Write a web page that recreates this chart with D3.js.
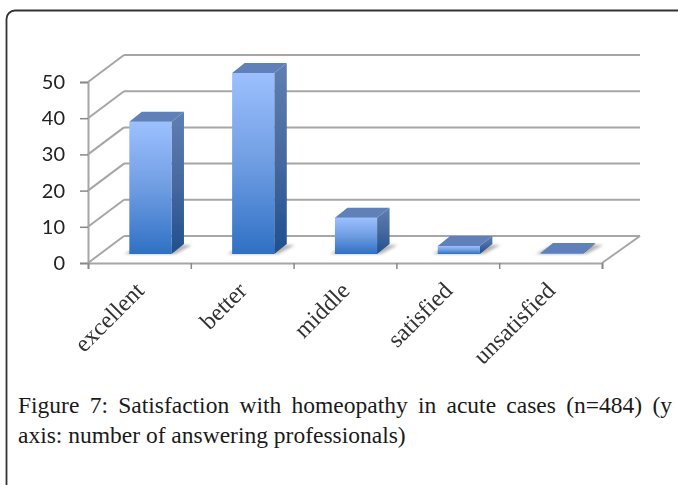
<!DOCTYPE html>
<html>
<head>
<meta charset="utf-8">
<script src="https://cdn.jsdelivr.net/npm/d3@7"></script>
<style>
	html, body { margin: 0; padding: 0; background: #fff; }
	#wrap { position: relative; width: 678px; height: 485px; overflow: hidden; }
	svg { position: absolute; left: 0; top: 0; }
	#caption {
		position: absolute; left: 18px; top: 391px; width: 654px;
		font: 23.5px/29.5px "Liberation Serif", serif; color: #1a1a1a;
		text-align: justify;
	}
</style>
</head>
<body>
<div id="wrap">
	<svg id="chart" width="678" height="485"></svg>
	<div id="caption"></div>
</div>
<script>
'use strict';

const categories = ['excellent', 'better', 'middle', 'satisfied', 'unsatisfied'];
const values = [36.5, 50, 10, 2.2, 0.3];
const yTicks = [0, 10, 20, 30, 40, 50];
const captionText = 'Figure 7: Satisfaction with homeopathy in acute cases (n=484) (y axis: number of answering professionals)';

(function () {

	const svg = d3.select('#chart');
	const defs = svg.append('defs');

	const left = 88, right = 602, bottom = 263, top = 82;

	// depth of the fake 3d box, as a screen offset
	const wall = { dx: 36, dy: -27 };
	const barFront = { dx: 11, dy: -9 };
	const barBack = { dx: 23.5, dy: -19 };

	const x = d3.scaleBand()
		.domain(categories)
		.range([left, right])
		.paddingInner(0.59)
		.paddingOuter(0.295);
	const xEdges = d3.scaleLinear().domain([0, categories.length]).range([left, right]);
	const y = d3.scaleLinear().domain([0, 50]).range([bottom, top]);

	const gradient = (id, c0, c1, c2) => {
		const g = defs.append('linearGradient')
			.attr('id', id)
			.attr('x1', 0).attr('y1', 0).attr('x2', 0).attr('y2', 1);
		g.append('stop').attr('offset', '0%').attr('stop-color', c0);
		g.append('stop').attr('offset', '50%').attr('stop-color', c1);
		g.append('stop').attr('offset', '100%').attr('stop-color', c2);
	};
	gradient('front', '#9cc0ff', '#6f9de2', '#2f70c4');
	gradient('side', '#5f7fb2', '#47699f', '#1f4f8e');

	const soft = defs.append('filter').attr('id', 'soft');
	soft.append('feGaussianBlur').attr('stdDeviation', 0.55);
	const shadowBlur = defs.append('filter').attr('id', 'shadowBlur')
		.attr('x', '-30%').attr('y', '-50%').attr('width', '160%').attr('height', '200%');
	shadowBlur.append('feGaussianBlur').attr('stdDeviation', 1.6);

	// card outline: left and top only
	svg.append('path')
		.attr('d', 'M6.5,485V19a8.5,8.5 0 0 1 8.5,-8.5H678')
		.attr('fill', 'none')
		.attr('stroke', '#333')
		.attr('stroke-width', 1.8);

	const g = svg.append('g').attr('filter', 'url(#soft)');

	// walls
	const gridColor = '#a6a6a6';
	g.selectAll('line.back')
		.data(yTicks)
		.join('line')
		.attr('class', 'back')
		.attr('x1', left + wall.dx).attr('x2', 640)
		.attr('y1', d => y(d) + wall.dy).attr('y2', d => y(d) + wall.dy)
		.attr('stroke', gridColor).attr('stroke-width', 2);

	g.selectAll('line.side')
		.data(yTicks)
		.join('line')
		.attr('class', 'side')
		.attr('x1', left).attr('x2', left + wall.dx)
		.attr('y1', d => y(d)).attr('y2', d => y(d) + wall.dy)
		.attr('stroke', gridColor).attr('stroke-width', 2);

	g.append('line')
		.attr('x1', right).attr('x2', right + 38)
		.attr('y1', bottom).attr('y2', bottom + wall.dy)
		.attr('stroke', gridColor).attr('stroke-width', 2);

	// axes
	const yAxis = g.append('g')
		.attr('transform', `translate(${left},0)`)
		.call(d3.axisLeft(y).tickValues(yTicks).tickSize(8).tickPadding(15));
	yAxis.selectAll('text')
		.attr('font-family', 'Lato, sans-serif')
		.attr('font-size', 20)
		.attr('fill', '#222');

	const xAxis = g.append('g')
		.attr('transform', `translate(0,${bottom})`)
		.call(d3.axisBottom(xEdges).ticks(categories.length).tickSize(6).tickFormat(''));

	[yAxis, xAxis].forEach(a => {
		a.selectAll('line').attr('stroke', '#888').attr('stroke-width', 1.5);
		a.select('.domain').attr('stroke', gridColor).attr('stroke-width', 2);
	});

	// bars
	const bars = g.selectAll('g.bar')
		.data(categories.map((c, i) => ({ name: c, value: values[i] })))
		.join('g')
		.attr('class', 'bar');

	const pts = (arr) => arr.map(p => p.join(',')).join(' ');
	const front = d => ({
		x0: x(d.name) + barFront.dx,
		x1: x(d.name) + x.bandwidth() + barFront.dx,
		yb: y(0) + barFront.dy,
		yt: y(d.value) + barFront.dy
	});
	const ddx = barBack.dx - barFront.dx;
	const ddy = barBack.dy - barFront.dy;

	bars.append('polygon')
		.attr('points', d => {
			const f = front(d);
			return pts([[f.x0 - 5, f.yb], [f.x1 + 4, f.yb], [f.x1 + ddx + 8, f.yb + ddy + 1], [f.x0 + ddx, f.yb + ddy + 1]]);
		})
		.attr('fill', '#b4b4b4')
		.attr('filter', 'url(#shadowBlur)');

	bars.append('polygon')
		.attr('points', d => {
			const f = front(d);
			return pts([[f.x1, f.yt], [f.x1 + ddx, f.yt + ddy], [f.x1 + ddx, f.yb + ddy], [f.x1, f.yb]]);
		})
		.attr('fill', 'url(#side)');

	bars.append('rect')
		.attr('x', d => front(d).x0)
		.attr('y', d => front(d).yt)
		.attr('width', x.bandwidth())
		.attr('height', d => front(d).yb - front(d).yt)
		.attr('fill', 'url(#front)');

	bars.append('polygon')
		.attr('points', d => {
			const f = front(d);
			return pts([[f.x0, f.yt], [f.x1, f.yt], [f.x1 + ddx, f.yt + ddy], [f.x0 + ddx, f.yt + ddy]]);
		})
		.attr('fill', '#5f80b8');

	// category labels
	g.selectAll('text.cat')
		.data(categories)
		.join('text')
		.attr('class', 'cat')
		.attr('transform', d => `translate(${x(d) + x.bandwidth() / 2 + 6},292) rotate(-45)`)
		.attr('text-anchor', 'end')
		.attr('font-family', '"Liberation Serif", serif')
		.attr('font-size', 24)
		.attr('fill', '#333')
		.text(d => d);

	d3.select('#caption').text(captionText);

})();
</script>
</body>
</html>
